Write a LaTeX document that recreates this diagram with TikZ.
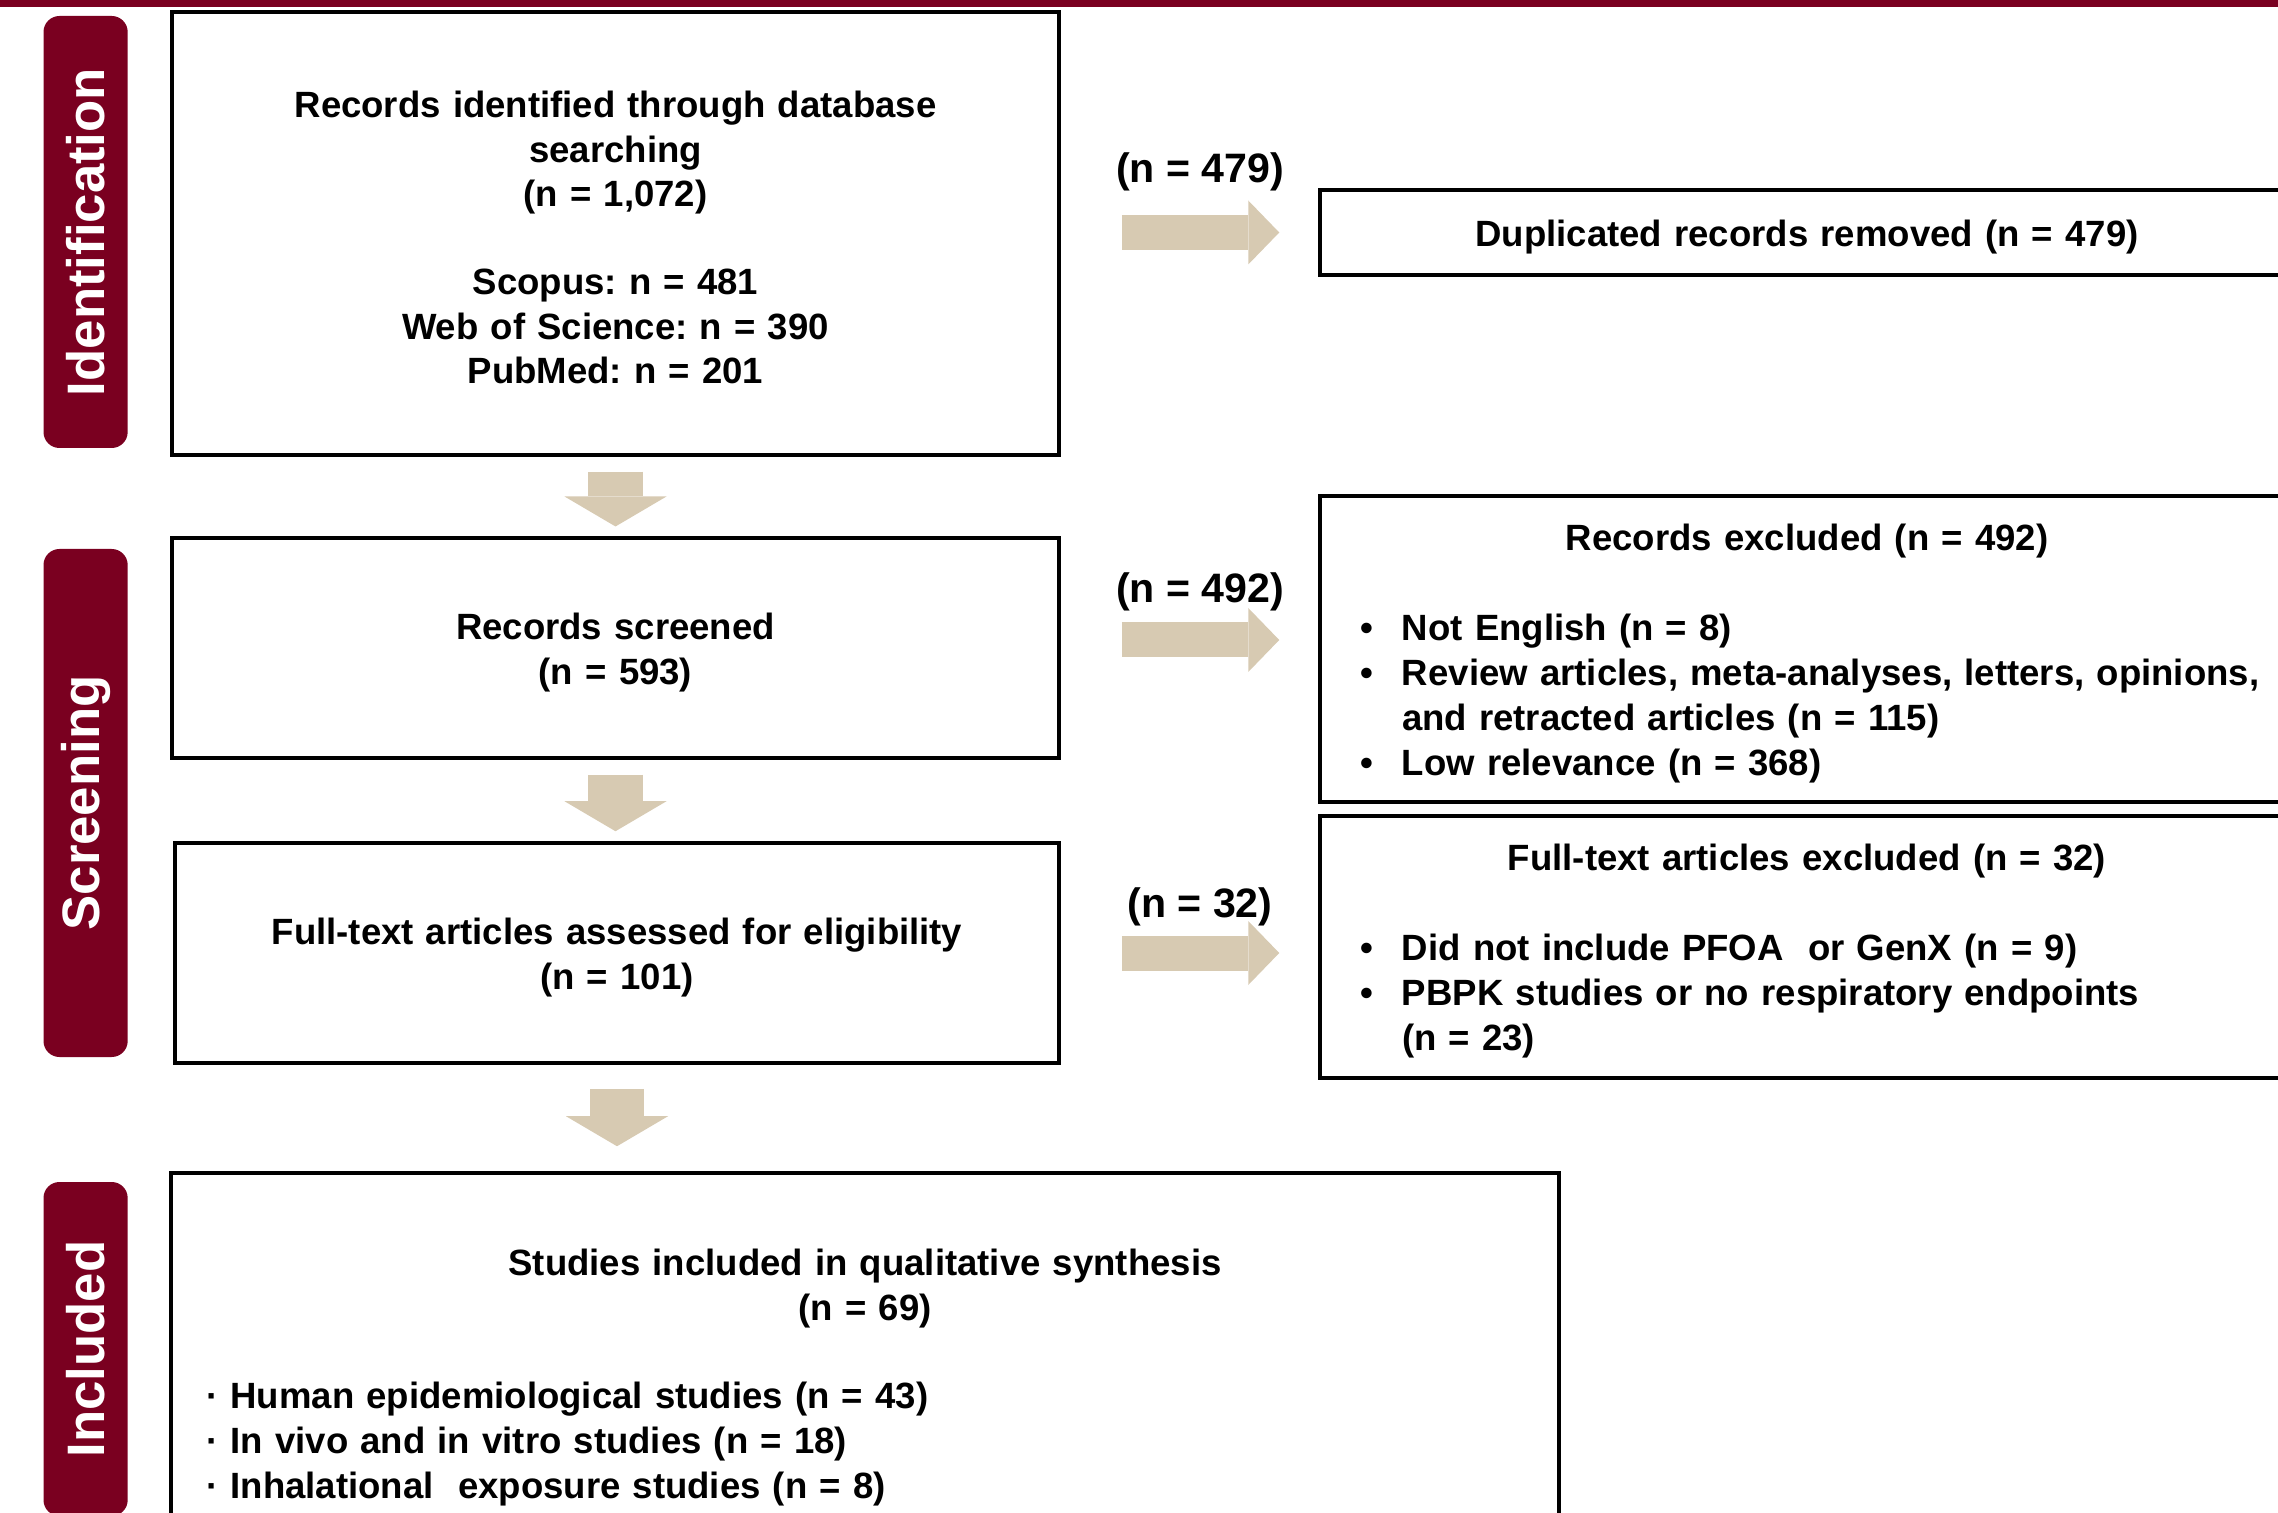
\documentclass[tikz,border=0pt]{standalone}
\usepackage{fontspec}
\setmainfont{Liberation Sans}
\usetikzlibrary{arrows.meta,positioning,calc}
\definecolor{prismaRed}{HTML}{7A0020}
\definecolor{prismaTan}{HTML}{D7CAB2}
\setlength{\parindent}{0pt}
\newcommand{\bitem}[1]{\par\hangindent=4.2mm\hangafter=1\noindent\makebox[4.2mm][l]{\textbullet}#1\par}
\tikzset{
  phasetab/.style={
    rounded corners=1.6mm,
    fill=prismaRed,
    text=white,
    inner sep=0pt,
    rotate=90,
    minimum height=0.842cm,
    font=\fontsize{15}{18}\selectfont\bfseries
  },
  stagebox/.style={
    draw=black,
    line width=1pt,
    inner sep=0pt,
    align=center,
    execute at begin node={\rule{0pt}{10pt}},
    font=\fontsize{10.4}{12.8}\selectfont\bfseries\frenchspacing
  },
  sidebox/.style={
    draw=black,
    line width=1pt,
    inner xsep=4mm,
    inner ysep=0pt,
    text width=89.4mm,
    align=left,
    execute at begin node={\rule{0pt}{10pt}},
    font=\fontsize{10.4}{12.8}\selectfont\bfseries\frenchspacing
  },
  countlbl/.style={
    inner sep=1pt,
    font=\fontsize{11.7}{14}\selectfont\bfseries
  },
  fatdown/.style={
    draw=prismaTan,
    line width=5.45mm,
    shorten <=1.5mm,
    shorten >=1mm,
    -{Triangle[length=3mm,width=10.2mm,line width=0pt]}
  },
  fatright/.style={
    draw=prismaTan,
    line width=3.5mm,
    shorten <=6.1mm,
    shorten >=3.9mm,
    -{Triangle[length=3.1mm,width=6.4mm,line width=0pt]}
  }
}

\begin{document}
\begin{tikzpicture}[x=1cm,y=1cm]
\useasboundingbox (0,0) rectangle (22.78,15.12);
\clip (0,0) rectangle (22.78,15.12);

% top rule
\fill[prismaRed] (0,15.05) rectangle (22.78,15.2);

% phase tabs
\node[phasetab, minimum width=4.32cm] (tabid) at (0.856,12.80) {Identification};
\node[phasetab, minimum width=5.08cm] (tabscr) at (0.856,7.09) {Screening};
\node[phasetab, minimum width=3.34cm] (tabinc) at (0.856,1.63) {Included};

% main column
\node[stagebox, font=\fontsize{10.4}{12.6}\selectfont\bfseries\frenchspacing,
      text width=8.87cm, minimum height=4.43cm] (ident) at (6.155,12.787)
  {Records identified through database\\searching\\(n = 1,072)\\[12.6pt]Scopus: n = 481\\Web of Science: n = 390\\PubMed: n = 201\\[2.5pt]};
\node[stagebox, text width=8.87cm, minimum height=2.195cm] (screen) at (6.155,8.64)
  {Records screened\\(n = 593)};
\node[stagebox, text width=8.84cm, minimum height=2.20cm] (fulltext) at (6.17,5.59)
  {Full-text articles assessed for eligibility\\(n = 101)};
\node[sidebox, inner xsep=3.5mm, text width=131.75mm, minimum height=4.0cm] (incl) at (8.65,1.39) {%
  {\centering Studies included in qualitative synthesis\\(n = 69)\par}
  \vspace{12.4pt}
  · Human epidemiological studies (n = 43)\newline
  · In vivo and in vitro studies (n = 18)\newline
  · Inhalational~ exposure studies (n = 8)};

% side column
\node[stagebox, text width=9.74cm, minimum height=0.85cm] (dup) at (18.07,12.795)
  {Duplicated records removed (n = 479)};
\node[sidebox, minimum height=3.06cm] (excl) at (18.07,8.63) {%
  {\centering Records excluded (n = 492)\par}
  \vspace{12.8pt}
  \bitem{Not English (n = 8)}
  \bitem{\mbox{Review articles, meta-analyses, letters, opinions,}\newline and retracted articles (n = 115)}
  \bitem{Low relevance (n = 368)}};
\node[sidebox, minimum height=2.62cm] (ftexcl) at (18.07,5.65) {%
  {\centering Full-text articles excluded (n = 32)\par}
  \vspace{12.8pt}
  \bitem{Did not include PFOA~ or GenX (n = 9)}
  \bitem{PBPK studies or no respiratory endpoints\newline (n = 23)}};

% counts
\node[countlbl] (n479) at (12.0,13.405) {(n = 479)};
\node[countlbl] (n492) at (12.0,9.205) {(n = 492)};
\node[countlbl] (n32) at (12.0,6.055) {(n = 32)};

% arrows
\draw[fatdown] (ident) -- (screen);
\draw[fatdown] (screen.south) -- (screen.south |- fulltext.north);
\draw[fatdown, shorten <=2.4mm, shorten >=2.5mm] (fulltext.south) -- (fulltext.south |- incl.north);

\draw[fatright] (ident.east |- dup.west) -- (dup.west);
\draw[fatright] ([yshift=0.8mm]screen.east) -- ([yshift=0.8mm]screen.east -| excl.west);
\draw[fatright] (fulltext.east) -- (fulltext.east -| ftexcl.west);

\end{tikzpicture}
\end{document}
